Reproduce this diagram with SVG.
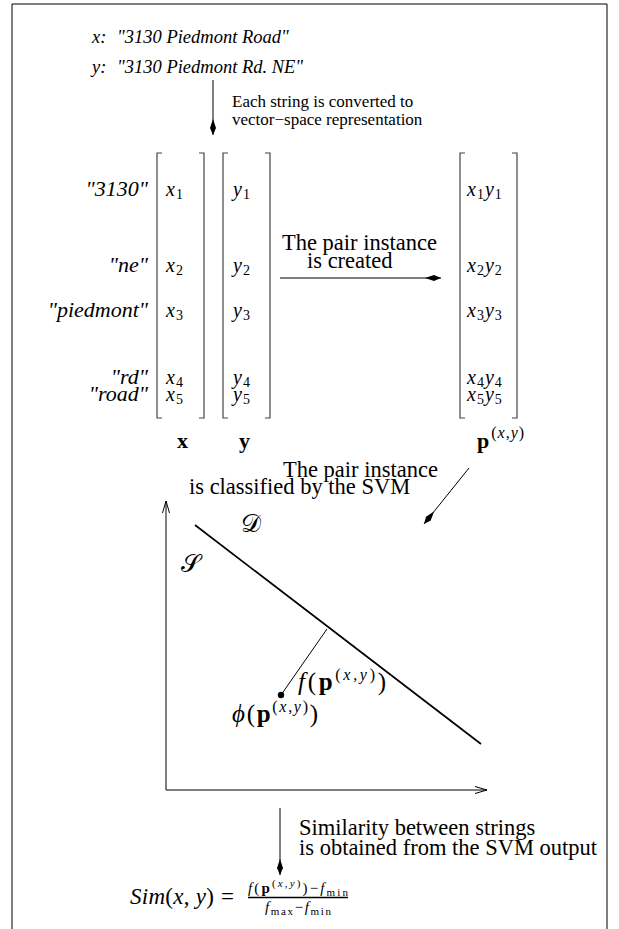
<svg xmlns="http://www.w3.org/2000/svg" width="619" height="929" viewBox="0 0 619 929">
<style>
.rm{font-family:"Liberation Serif","Times New Roman",serif;fill:#000}
.it{font-family:"Liberation Serif","Times New Roman",serif;font-style:italic;fill:#000}
.bf{font-family:"Liberation Serif","Times New Roman",serif;font-weight:bold;fill:#000}
.nb{font-weight:normal}
.br{fill:none;stroke:#444;stroke-width:1.2}
.ln{fill:none;stroke:#000;stroke-width:1}
.sub{font-size:70%;font-style:normal}
.lbl{font-size:22.5px}
</style>
<defs>
<marker id="kite" markerUnits="userSpaceOnUse" markerWidth="20" markerHeight="10" viewBox="-16 -5 18 10" refX="0" refY="0" orient="auto">
<path d="M0,0 L-7,-3 L-16,0 L-7,3 Z" fill="#000"/>
</marker>
<marker id="open" markerUnits="userSpaceOnUse" markerWidth="14" markerHeight="10" viewBox="-13 -5 14 10" refX="0" refY="0" orient="auto">
<path d="M-12,-3.5 L0,0 L-12,3.5" fill="none" stroke="#000" stroke-width="1"/>
</marker>
</defs>
<path class="ln" d="M12,929 V4 H607 V929"/>

<g id="strings">
<text class="it" font-size="18.5" x="92" y="43">x:</text>
<text class="it" font-size="18.5" x="117" y="43">"3130 Piedmont Road"</text>
<text class="it" font-size="18.5" x="92" y="73">y:</text>
<text class="it" font-size="18.5" x="117" y="73">"3130 Piedmont Rd. NE"</text>
</g>

<g id="labels">
<text class="it" font-size="22" text-anchor="end" x="148" y="196">"3130"</text>
<text class="it" font-size="22" text-anchor="end" x="148" y="272">"ne"</text>
<text class="it" font-size="22" text-anchor="end" x="148" y="317">"piedmont"</text>
<text class="it" font-size="22" text-anchor="end" x="148" y="384">"rd"</text>
<text class="it" font-size="22" text-anchor="end" x="148" y="401">"road"</text>
</g>

<g id="vec-x">
<path class="br" d="M162,153 H157 V418 H162 M199,153 H204 V418 H199"/>
<g font-size="20">
<text class="it" x="166" y="196">x<tspan class="sub" dx="1" dy="3">1</tspan></text>
<text class="it" x="166" y="272">x<tspan class="sub" dx="1" dy="3">2</tspan></text>
<text class="it" x="166" y="317">x<tspan class="sub" dx="1" dy="3">3</tspan></text>
<text class="it" x="166" y="384">x<tspan class="sub" dx="1" dy="3">4</tspan></text>
<text class="it" x="166" y="401">x<tspan class="sub" dx="1" dy="3">5</tspan></text>
</g>
<text class="bf" font-size="22" x="177" y="448">x</text>
</g>

<g id="vec-y">
<path class="br" d="M228,153 H223 V418 H228 M265,153 H270 V418 H265"/>
<g font-size="20">
<text class="it" x="233" y="196">y<tspan class="sub" dx="1" dy="3">1</tspan></text>
<text class="it" x="233" y="272">y<tspan class="sub" dx="1" dy="3">2</tspan></text>
<text class="it" x="233" y="317">y<tspan class="sub" dx="1" dy="3">3</tspan></text>
<text class="it" x="233" y="384">y<tspan class="sub" dx="1" dy="3">4</tspan></text>
<text class="it" x="233" y="401">y<tspan class="sub" dx="1" dy="3">5</tspan></text>
</g>
<text class="bf" font-size="22" x="239" y="448">y</text>
</g>

<g id="vec-p">
<path class="br" d="M465,153 H460 V418 H465 M512,153 H517 V418 H512"/>
<g font-size="20">
<text class="it" x="467" y="196">x<tspan class="sub" dx="1" dy="3">1</tspan><tspan dx="1" dy="-3">y</tspan><tspan class="sub" dx="1" dy="3">1</tspan></text>
<text class="it" x="467" y="272">x<tspan class="sub" dx="1" dy="3">2</tspan><tspan dx="1" dy="-3">y</tspan><tspan class="sub" dx="1" dy="3">2</tspan></text>
<text class="it" x="467" y="317">x<tspan class="sub" dx="1" dy="3">3</tspan><tspan dx="1" dy="-3">y</tspan><tspan class="sub" dx="1" dy="3">3</tspan></text>
<text class="it" x="467" y="384">x<tspan class="sub" dx="1" dy="3">4</tspan><tspan dx="1" dy="-3">y</tspan><tspan class="sub" dx="1" dy="3">4</tspan></text>
<text class="it" x="467" y="401">x<tspan class="sub" dx="1" dy="3">5</tspan><tspan dx="1" dy="-3">y</tspan><tspan class="sub" dx="1" dy="3">5</tspan></text>
</g>
<text class="bf" font-size="22" x="477" y="448">p<tspan class="rm nb" font-size="16" dx="2" dy="-10" letter-spacing="1">(<tspan class="it">x</tspan>,<tspan class="it">y</tspan>)</tspan></text>
</g>

<g id="svm-plot">
<path class="ln" d="M166,790 V501" marker-end="url(#open)"/>
<path class="ln" d="M166,790 H487" marker-end="url(#open)"/>
<path d="M195,525 L481,744" stroke="#000" stroke-width="1.7" fill="none"/>
<path class="ln" d="M281,695 L327,629"/>
<circle cx="281" cy="695" r="3.2" fill="#000"/>
<text class="rm" font-size="25" x="241" y="532">𝒟</text>
<text class="rm" font-size="25" x="181" y="572">𝒮</text>
<text class="rm" font-size="25" x="298" y="690" textLength="88" lengthAdjust="spacing"><tspan class="it">f</tspan>(<tspan class="bf">p</tspan><tspan font-size="16" dy="-10">(<tspan class="it">x</tspan>,<tspan class="it">y</tspan>)</tspan><tspan dy="10">)</tspan></text>
<text class="rm" font-size="25" x="232" y="722" textLength="86" lengthAdjust="spacing"><tspan class="it">ϕ</tspan>(<tspan class="bf">p</tspan><tspan font-size="16" dy="-10">(<tspan class="it">x</tspan>,<tspan class="it">y</tspan>)</tspan><tspan dy="10">)</tspan></text>
</g>

<g id="result">
<text class="rm" font-size="23" x="130" y="904" textLength="84" lengthAdjust="spacing"><tspan class="it">Sim</tspan>(<tspan class="it">x</tspan>, <tspan class="it">y</tspan>)</text>
<text class="rm" font-size="23" x="221" y="904">=</text>
<text class="rm" font-size="15" x="248" y="893" textLength="100" lengthAdjust="spacing"><tspan class="it">f</tspan>(<tspan class="bf">p</tspan><tspan font-size="11" dy="-6">(<tspan class="it">x</tspan>,<tspan class="it">y</tspan>)</tspan><tspan dy="6">)−</tspan><tspan class="it">f</tspan><tspan font-size="11" dy="3">min</tspan></text>
<path d="M248,897.5 H348" stroke="#000" stroke-width="1.3"/>
<text class="rm" font-size="15" x="265" y="912" textLength="66" lengthAdjust="spacing"><tspan class="it">f</tspan><tspan font-size="11" dy="3">max</tspan><tspan dy="-3">−</tspan><tspan class="it">f</tspan><tspan font-size="11" dy="3">min</tspan></text>
</g>

<g id="connectors">
<path class="ln" d="M213,80 V135" marker-end="url(#kite)"/>
<path class="ln" d="M280,278 H441" marker-end="url(#kite)"/>
<path class="ln" d="M469,468 L424,524" marker-end="url(#kite)"/>
<path class="ln" d="M280,808 V875" marker-end="url(#kite)"/>
<text class="rm" font-size="17" x="232" y="107">Each string is converted to</text>
<text class="rm" font-size="17" x="232" y="125">vector−space representation</text>
<text class="rm lbl" x="282" y="250">The pair instance</text>
<text class="rm lbl" x="307" y="268">is created</text>
<text class="rm lbl" x="283" y="477">The pair instance</text>
<text class="rm lbl" x="189" y="494">is classified by the SVM</text>
<text class="rm lbl" x="299" y="835">Similarity between strings</text>
<text class="rm lbl" x="299" y="855">is obtained from the SVM output</text>
</g>
</svg>
